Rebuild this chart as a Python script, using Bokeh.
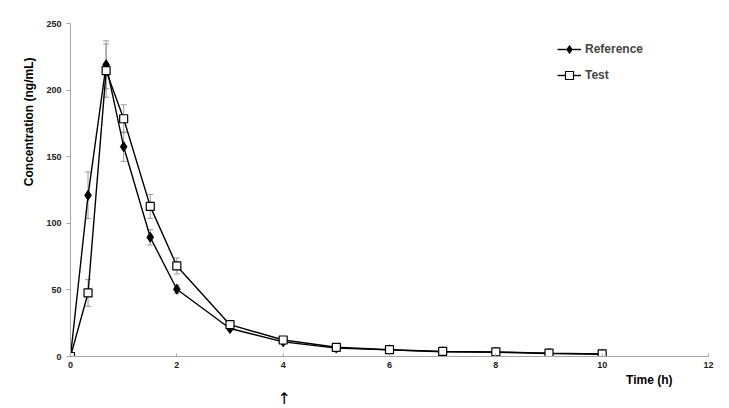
import math
from bokeh.plotting import figure
from bokeh.models import ColumnDataSource, Whisker, TeeHead, Title, Legend, LegendItem, Range1d, FixedTicker
from bokeh.embed import file_html
from bokeh.resources import INLINE

time_h = [0, 0.33, 0.67, 1, 1.5, 2, 3, 4, 5, 6, 7, 8, 9, 10]
ref_conc = [0, 121, 219, 157.5, 89.5, 50.5, 21, 11, 6.3, 5, 3.6, 3.2, 2.2, 1.6]
ref_err = [0, 17.5, 18, 11, 5.7, 3, 1.5, 1, 0.6, 0.5, 0.4, 0.3, 0.3, 0.2]
test_conc = [0, 47.7, 214.6, 178.5, 112.7, 68, 23.9, 12.4, 6.9, 5.1, 3.8, 3.5, 2.5, 2.0]
test_err = [0, 10, 20, 10.5, 9, 6, 2, 1, 0.6, 0.5, 0.4, 0.3, 0.3, 0.2]
x_ticks = [0, 2, 4, 6, 8, 10, 12]
y_ticks = [0, 50, 100, 150, 200, 250]

FONT = "Liberation Sans"

p = figure(width=721, height=400, output_backend="svg", toolbar_location=None,
           x_range=Range1d(0, 12), y_range=Range1d(0, 250))
p.frame_width = 638
p.frame_height = 333
p.min_border_left = 70
p.min_border_right = 13
p.min_border_top = 23
p.min_border_bottom = 44
p.outline_line_color = None
p.grid.visible = False
p.background_fill_color = "white"

for ax in (p.xaxis[0], p.yaxis[0]):
    ax.axis_line_color = "#a6a6a6"
    ax.major_tick_line_color = "#a6a6a6"
    ax.minor_tick_line_color = None
    ax.major_label_text_font = FONT
    ax.major_label_text_font_style = "bold"
    ax.major_label_text_font_size = "9px"
    ax.major_label_text_color = "#222222"

p.xaxis.ticker = FixedTicker(ticks=x_ticks)
p.yaxis.ticker = FixedTicker(ticks=y_ticks)
p.xaxis.major_tick_in = 3
p.xaxis.major_tick_out = 0
p.xaxis.major_label_standoff = 5
p.yaxis.major_tick_in = 0
p.yaxis.major_tick_out = 4
p.yaxis.major_label_standoff = 5

ref_src = ColumnDataSource(dict(x=time_h, y=ref_conc,
                                lo=[a - b for a, b in zip(ref_conc, ref_err)],
                                hi=[a + b for a, b in zip(ref_conc, ref_err)]))
test_src = ColumnDataSource(dict(x=time_h, y=test_conc,
                                 lo=[a - b for a, b in zip(test_conc, test_err)],
                                 hi=[a + b for a, b in zip(test_conc, test_err)]))

for src in (ref_src, test_src):
    w = Whisker(source=src, base="x", lower="lo", upper="hi", line_color="#999999", line_width=1,
                upper_head=TeeHead(size=6, line_color="#999999", line_width=1),
                lower_head=TeeHead(size=6, line_color="#999999", line_width=1))
    p.add_layout(w)

l1 = p.line("x", "y", source=ref_src, line_color="black", line_width=1.4)
m1 = p.scatter("x", "y", source=ref_src, marker="diamond", size=10, fill_color="black", line_color="black")
l2 = p.line("x", "y", source=test_src, line_color="black", line_width=1.4)
m2 = p.scatter("x", "y", source=test_src, marker="square", size=8, fill_color="white", line_color="black", line_width=1.2)

legend = Legend(items=[LegendItem(label="Reference", renderers=[l1, m1]),
                       LegendItem(label="Test", renderers=[l2, m2])],
                location=(487, 271), border_line_color=None, background_fill_alpha=0,
                label_text_font=FONT, label_text_font_style="bold", label_text_font_size="12px",
                glyph_width=24, glyph_height=20, label_height=20, spacing=6, padding=0, margin=0,
                label_standoff=4)
p.add_layout(legend)

p.add_layout(Title(text="Concentration (ng/mL)", align="right", offset=34, standoff=16,
                   text_font=FONT, text_font_style="bold", text_font_size="12px",
                   text_color="black"), "left")
p.add_layout(Title(text="Time (h)", align="right", offset=36, standoff=0,
                   text_font=FONT, text_font_style="bold", text_font_size="12px",
                   text_color="black"), "below")
p.add_layout(Title(text="\u2191", align="left", offset=207, standoff=0,
                   text_font="DejaVu Sans", text_font_style="normal", text_font_size="16px",
                   text_color="black"), "below")

open("out.html", "w").write(file_html(p, INLINE))
